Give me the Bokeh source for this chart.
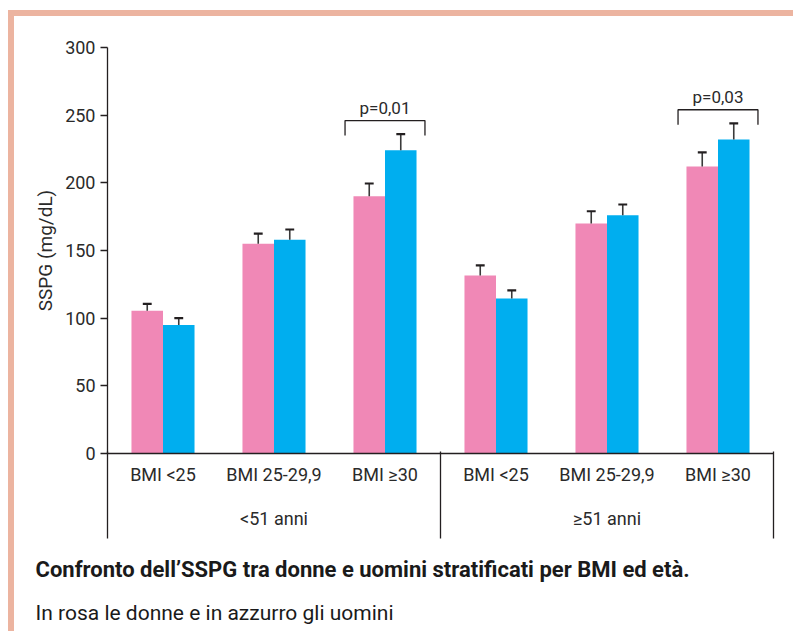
from bokeh.plotting import figure
from bokeh.models import Range1d, LinearAxis, FixedTicker, Title
from bokeh.core.properties import value
from bokeh.embed import file_html
from bokeh.resources import INLINE

# ---- data ----
bmi_labels = ["BMI <25", "BMI 25-29,9", "BMI \u226530", "BMI <25", "BMI 25-29,9", "BMI \u226530"]
age_groups = ["<51 anni", "\u226551 anni"]
donne = [105.5, 155, 190, 131.5, 170, 212]
donne_err = [5, 7.5, 9.5, 7.5, 9, 10.5]
uomini = [95, 158, 224, 114.5, 176, 232]
uomini_err = [5, 7.5, 12, 6, 8, 12]
p_index = [2, 5]
p_text = ["p=0,01", "p=0,03"]
y_ticks = [0, 50, 100, 150, 200, 250, 300]
caption_bold = "Confronto dell\u2019SSPG tra donne e uomini stratificati per BMI ed et\u00e0."
caption_text = "In rosa le donne e in azzurro gli uomini"

FONT = "Roboto"
PINK = "#F088B6"
BLUE = "#00AEEF"
DARK = "#231F20"
TXT = "#2a2a2a"
SALMON = "#ECB4A0"

n = len(bmi_labels)
per_group = n // len(age_groups)
centers = [i + 0.5 for i in range(n)]
group_centers = [g * per_group + per_group / 2 for g in range(len(age_groups))]
group_bounds = [g * per_group for g in range(len(age_groups) + 1)]

p = figure(frame_width=666, frame_height=406, x_range=Range1d(0, n), y_range=Range1d(0, 300),
           output_backend="svg", toolbar_location=None,
           x_axis_type=None, y_axis_type=None,
           min_border_left=93, min_border_top=31, min_border_right=20, min_border_bottom=0)
p.outline_line_color = None
p.xgrid.visible = False
p.ygrid.visible = False
p.styles = {"border-top": f"6px solid {SALMON}", "border-left": f"6px solid {SALMON}",
            "margin-top": "10px", "margin-left": "8px",
            "min-height": "621px", "min-width": "785px"}

# y axis
yaxis = LinearAxis(ticker=FixedTicker(ticks=y_ticks), axis_label="SSPG (mg/dL)")
yaxis.major_tick_out = 7
yaxis.major_tick_in = 0
yaxis.minor_tick_line_color = None
yaxis.axis_line_color = DARK
yaxis.axis_line_width = 1.3
yaxis.major_tick_line_color = DARK
yaxis.major_tick_line_width = 1.3
yaxis.major_label_text_font = FONT
yaxis.major_label_text_font_size = "18px"
yaxis.major_label_text_color = TXT
yaxis.major_label_standoff = 5
yaxis.axis_label_text_font = FONT
yaxis.axis_label_text_font_size = "19px"
yaxis.axis_label_text_font_style = "normal"
yaxis.axis_label_text_color = TXT
yaxis.axis_label_standoff = 5
p.add_layout(yaxis, "left")

# x axis: category labels
xaxis = LinearAxis(ticker=FixedTicker(ticks=centers),
                   major_label_overrides={c: l for c, l in zip(centers, bmi_labels)})
xaxis.major_tick_out = 0
xaxis.major_tick_in = 0
xaxis.major_tick_line_color = None
xaxis.minor_tick_line_color = None
xaxis.axis_line_color = DARK
xaxis.axis_line_width = 1.3
xaxis.major_label_text_font = FONT
xaxis.major_label_text_font_size = "18px"
xaxis.major_label_text_color = TXT
xaxis.major_label_standoff = 10
p.add_layout(xaxis, "below")

# age-group labels
gaxis = LinearAxis(ticker=FixedTicker(ticks=group_centers),
                   major_label_overrides={c: l for c, l in zip(group_centers, age_groups)})
gaxis.axis_line_color = None
gaxis.major_tick_line_color = None
gaxis.major_tick_out = 0
gaxis.major_tick_in = 0
gaxis.minor_tick_line_color = None
gaxis.major_label_text_font = FONT
gaxis.major_label_text_font_size = "18px"
gaxis.major_label_text_color = TXT
gaxis.major_label_standoff = 20
p.add_layout(gaxis, "below")

# group dividers (minor ticks pointing back up to the x axis line)
daxis = LinearAxis(ticker=FixedTicker(ticks=[], minor_ticks=group_bounds))
daxis.axis_line_color = None
daxis.major_tick_line_color = None
daxis.major_label_standoff = 0
daxis.minor_tick_in = 80
daxis.minor_tick_out = 7
daxis.minor_tick_line_color = DARK
daxis.minor_tick_line_width = 1.3
p.add_layout(daxis, "below")

# caption
p.add_layout(Title(text=caption_bold, align="left", offset=-72, standoff=33,
                   text_font=FONT, text_font_size="22px", text_font_style="bold",
                   text_color="#1a1a1a"), "below")
p.add_layout(Title(text=caption_text, align="left", offset=-72, standoff=0,
                   text_font=FONT, text_font_size="21px", text_font_style="normal",
                   text_color="#1a1a1a"), "below")

# bars
off = 0.142
bw = 0.284
xd = [c - off for c in centers]
xu = [c + off for c in centers]
p.vbar(x=xd, width=bw, top=donne, bottom=0, fill_color=PINK, line_color=None)
p.vbar(x=xu, width=bw, top=uomini, bottom=0, fill_color=BLUE, line_color=None)

# error bars
cap = 0.04
for xs, v, e in [(xd, donne, donne_err), (xu, uomini, uomini_err)]:
    hi = [a + b for a, b in zip(v, e)]
    p.segment(x0=xs, y0=v, x1=xs, y1=hi, line_color="#3a3a3a", line_width=1.6)
    p.segment(x0=[x - cap for x in xs], y0=hi, x1=[x + cap for x in xs], y1=hi,
              line_color=DARK, line_width=2.2)

# significance brackets
half = 0.36
bxs, bys, tx, ty = [], [], [], []
for i in p_index:
    top = max(donne[i] + donne_err[i], uomini[i] + uomini_err[i]) + 10
    leg = top - 11
    c = centers[i]
    bxs.append([c - half, c - half, c + half, c + half])
    bys.append([leg, top, top, leg])
    tx.append(c)
    ty.append(top + 9.5)
p.multi_line(xs=bxs, ys=bys, line_color=DARK, line_width=1.3)
p.text(x=tx, y=ty, text=p_text, text_font=value(FONT), text_font_size="17px",
       text_align="center", text_baseline="alphabetic", text_color=TXT)

open("out.html", "w").write(file_html(p, INLINE))
